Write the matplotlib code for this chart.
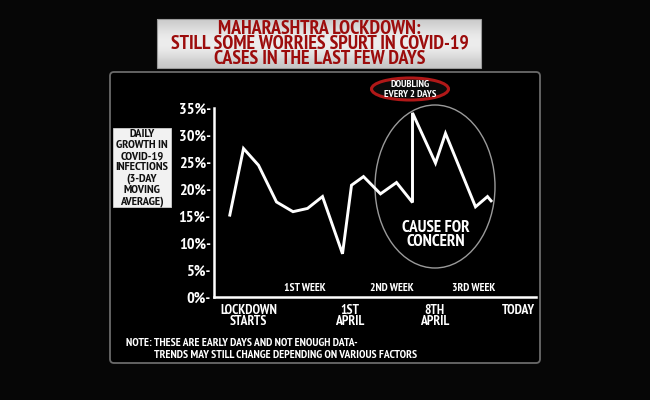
import matplotlib
matplotlib.use("Agg")
import matplotlib.pyplot as plt
from matplotlib.patches import Ellipse, FancyBboxPatch, Rectangle
from matplotlib import font_manager as fm
import numpy as np

# ---- data ----
x_pos = [1.6, 3.0, 4.5, 6.3, 7.95, 9.4, 10.9, 12.9, 13.8, 15.0, 16.7, 18.3,
         19.9, 19.9, 22.2, 23.2, 26.2, 27.4, 27.85]
growth = [14.9, 27.5, 24.4, 17.6, 15.8, 16.4, 18.6, 8.0, 20.7, 22.3, 19.1, 21.2,
          17.5, 34.1, 24.8, 30.3, 16.7, 18.6, 17.6]
y_ticks = [0, 5, 10, 15, 20, 25, 30, 35]
y_ticklabels = ["0%-", "5%-", "10%-", "15%-", "20%-", "25%-", "30%-", "35%-"]
x_tick_pos = [3.5, 13.6, 22.1, 30.5]
x_ticklabels = ["LOCKDOWN\nSTARTS", "1ST\nAPRIL", "8TH\nAPRIL", "TODAY"]
week_pos = [9.1, 17.8, 26.0]
week_labels = ["1ST WEEK", "2ND WEEK", "3RD WEEK"]
title = "MAHARASHTRA LOCKDOWN:\nSTILL SOME WORRIES SPURT IN COVID-19\nCASES IN THE LAST FEW DAYS"
ylabel = "DAILY\nGROWTH IN\nCOVID-19\nINFECTIONS\n(3-DAY\nMOVING\nAVERAGE)"
note1 = "NOTE: THESE ARE EARLY DAYS AND NOT ENOUGH DATA-"
note2 = "TRENDS MAY STILL CHANGE DEPENDING ON VARIOUS FACTORS"

# ---- choose a narrow bold font if one is installed ----
def pick_font():
    paths = [f.fname for f in fm.fontManager.ttflist]
    prefs = [("sansnarrow", "bold"), ("narrow", "bold"), ("sanscondensed", "bold"),
             ("condensed", "bold"), ("condensed", "")]
    for a, b in prefs:
        for p in sorted(paths):
            lp = p.lower().replace("-", "").replace("_", "")
            if a in lp and b in lp and "italic" not in lp and "oblique" not in lp \
                    and "extrabold" not in lp and "semibold" not in lp and "serif" not in lp:
                return fm.FontProperties(fname=p)
    return fm.FontProperties(family="DejaVu Sans", weight="bold")

BASE_FP = pick_font()

W, H = 650, 400
fig = plt.figure(figsize=(6.5, 4.0), dpi=100)
fig.patch.set_facecolor("#060606")
renderer = fig.canvas.get_renderer()

def fp(size):
    f = BASE_FP.copy()
    f.set_size(size)
    return f

def fit(s, target_px, base=10.0):
    t = fig.text(0, 0, s, fontproperties=fp(base))
    w = t.get_window_extent(renderer).width
    t.remove()
    return base * target_px / w

def lsp(size, step_px):
    w, h, d = renderer.get_text_width_height_descent("lp", fp(size), ismath=False)
    return max(0.1, (step_px - d) / (h - d))

# overlay in pixel coordinates for decorations
ov = fig.add_axes([0, 0, 1, 1])
ov.set_xlim(0, W)
ov.set_ylim(H, 0)
ov.axis("off")

# panel
ov.add_patch(FancyBboxPatch((110, 72), 430, 291, boxstyle="round,pad=0,rounding_size=4",
                            facecolor="#000000", edgecolor="#6a6a6a", linewidth=1.3, zorder=1))

# title box gradient
grad = np.array([0.80, 0.87, 0.92, 0.93, 0.91, 0.85, 0.78])[:, None] * np.ones((1, 2))
ov.imshow(grad, extent=(157, 481, 68, 19), cmap="gray", vmin=0, vmax=1,
          aspect="auto", zorder=2, interpolation="bicubic")
ov.add_patch(Rectangle((157, 19), 324, 49, facecolor="none", edgecolor="#9a9a9a",
                       linewidth=0.8, zorder=3))
ts = fit("STILL SOME WORRIES SPURT IN COVID-19", 299)
ov.text(319.5, 44, title, color="#9c0c0c", fontproperties=fp(ts),
        ha="center", va="center", multialignment="center",
        linespacing=lsp(ts, 15.5), zorder=4)

# y-label box
ov.add_patch(Rectangle((113, 128), 58, 79, facecolor="#f2f2f2", edgecolor="#cfcfcf",
                       linewidth=0.6, zorder=3))
ys = fit("INFECTIONS", 53)
ov.text(142, 168, ylabel, color="#111111", fontproperties=fp(ys),
        ha="center", va="center", multialignment="center",
        linespacing=lsp(ys, 11.0), zorder=4)

# doubling ellipse
ov.add_patch(Ellipse((410, 89), 77, 22, facecolor="#0a0a0a", edgecolor="#b01818",
                     linewidth=2.2, zorder=5))
ds = fit("EVERY 2 DAYS", 52)
ov.text(410, 89.5, "DOUBLING\nEVERY 2 DAYS", color="white", fontproperties=fp(ds),
        ha="center", va="center", multialignment="center",
        linespacing=lsp(ds, 9.5), zorder=6)

# cause for concern ellipse
ov.add_patch(Ellipse((435, 186.5), 120, 163, facecolor="none", edgecolor="#9a9a9a",
                     linewidth=1.0, zorder=5))
cs = fit("CAUSE FOR", 68)
ov.text(436, 235, "CAUSE FOR\nCONCERN", color="white", fontproperties=fp(cs),
        ha="center", va="center", multialignment="center",
        linespacing=lsp(cs, 15.0), zorder=6)

# notes
ns = fit(note1, 231)
ov.text(125.5, 343, note1, color="white", fontproperties=fp(ns),
        ha="left", va="center", zorder=6)
ov.text(154, 354.5, note2, color="white", fontproperties=fp(ns),
        ha="left", va="center", zorder=6)

# ---- main chart ----
ax = fig.add_axes([213.5 / W, 103 / H, 322.5 / W, 189 / H])
ax.set_facecolor("none")
ax.set_zorder(4)
ax.plot(x_pos, growth, color="white", linewidth=2.1, solid_joinstyle="miter",
        solid_capstyle="butt")
ax.set_xlim(0, 32.25)
ax.set_ylim(0, 35)
for s in ["top", "right"]:
    ax.spines[s].set_visible(False)
for s in ["left", "bottom"]:
    ax.spines[s].set_color("white")
    ax.spines[s].set_linewidth(1.8)

yts = fit("35%-", 32)
ax.set_yticks(y_ticks)
ax.set_yticklabels(y_ticklabels, color="white", fontproperties=fp(yts))
ax.tick_params(axis="y", length=0, pad=2)

xts = fit("LOCKDOWN", 57)
ax.set_xticks(x_tick_pos)
ax.set_xticklabels(x_ticklabels, color="white", fontproperties=fp(xts),
                   linespacing=lsp(xts, 11.0), va="top")
ax.tick_params(axis="x", length=0, pad=5)

ws = fit("1ST WEEK", 42)
for xp, lab in zip(week_pos, week_labels):
    ax.text(xp, 0.8, lab, color="white", fontproperties=fp(ws),
            ha="center", va="bottom")

fig.savefig("out.png", dpi=100, facecolor=fig.get_facecolor())
